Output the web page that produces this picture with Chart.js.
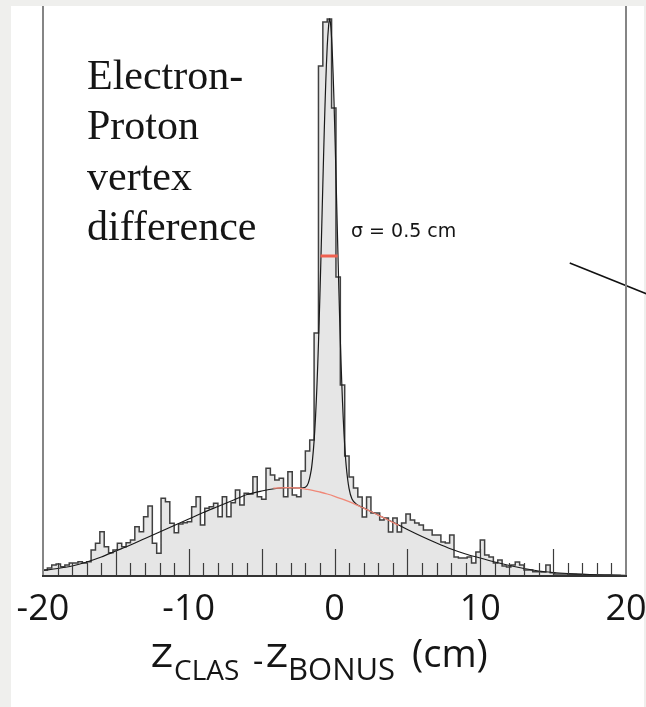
<!DOCTYPE html>
<html>
<head>
<meta charset="utf-8">
<title>Electron-Proton vertex difference</title>
<script src="https://cdn.jsdelivr.net/npm/chart.js@4.4.0/dist/chart.umd.min.js"></script>
<style>
    html, body { margin: 0; padding: 0; background: #efefed; }
    .panel { position: absolute; left: 11px; top: 6px; width: 633px; height: 701px; background: #fff; }
    #vertexChart { position: absolute; left: 0; top: 0; }
</style>
</head>
<body>
<div class="panel"></div>
<canvas id="vertexChart" width="646" height="707"></canvas>
<script>
// histogram: 0.3 cm bins starting at -20 cm (arbitrary count units)
const binStart = -20;
const binWidth = 0.3;
const counts = [
    5.3, 6, 8, 11, 12, 9.3, 11, 13, 13, 14.3, 13, 14.3,
    26, 32.7, 44.3, 29.3, 23.3, 26, 32.7, 29.3, 33.3, 36, 49.3, 44.3,
    59.3, 70, 32.7, 22.7, 77.7, 74.3, 52.7, 43.3, 52, 53.3, 54.3, 69.3,
    79.3, 51, 67.7, 69.3, 72.7, 59.3, 79.3, 59.3, 73.3, 86, 71, 82.7,
    82, 99.3, 79.3, 76.7, 107.7, 101, 96, 97.7, 79.3, 104.3, 81, 79.3,
    105, 125, 136, 243, 510, 554, 557, 468, 299, 191,
    120, 99, 88, 79, 59, 79, 63, 63, 56, 58, 44, 58,
    44, 53, 62, 56, 53, 51, 46, 46, 41, 41, 34, 33,
    41, 19, 18, 18, 19, 13, 24, 36, 21, 19, 13, 16,
    10, 9, 11, 14, 11, 6, 6, 4.3, 4.3, 4, 11, 3.3,
    2, 2, 2, 1.5, 1.5, 1.3, 1.3, 1, 1, 1, 1, 1, 1, 0.7, 0.7, 0.5,
];

// total fit (black)
const fitX = [-20, -19, -18, -17, -16, -15, -14, -13, -12, -11, -10, -9, -8, -7, -6, -5, -4, -3.3, -2.5, -2,
    -1.8, -1.6, -1.5, -1.4, -1.3, -1.2, -1.1, -1.0, -0.9, -0.8, -0.7, -0.6, -0.5, -0.4, -0.34, -0.25, -0.15, -0.05,
    0.05, 0.15, 0.25, 0.35, 0.45, 0.55, 0.65, 0.8, 1.0, 1.2, 1.5, 2, 3, 4, 5, 6, 7, 8, 9, 10, 11, 12, 13, 14, 15,
    16, 17, 18, 19, 20];
const fitY = [5.5, 7.5, 10, 14, 19, 25, 31, 37.5, 44, 50.5, 57, 63.5, 69.5, 75.5, 81.5, 85, 87.5, 88.3, 88, 88.8,
    92.9, 105.6, 117.7, 135.1, 159.6, 192, 232.7, 281.1, 335.1, 391.7, 446.4, 493.6, 529.5, 551, 557, 549, 523, 482,
    430, 372, 314, 260, 213, 174, 143, 110.5, 87.3, 77.1, 71.8, 68, 61, 54, 46.5, 39.5, 33, 27, 22, 18, 14, 10.5,
    7.5, 5, 3.5, 2.5, 1.8, 1.2, 0.8, 0.5];

// background part of the fit (red)
const bgX = [-4.2, -3.3, -2.5, -2, -1.5, -1, -0.5, 0, 0.5, 1, 1.5, 2, 2.5, 3, 3.5, 4, 4.4];
const bgY = [87.8, 88.3, 88, 86.9, 85.7, 84, 82, 79.7, 77.1, 74.3, 71.2, 67.8, 64.5, 60.9, 57.3, 53.6, 50.6];

// FWHM marker of the peak
const fwhmX = [-0.96, 0.22];
const fwhmY = [320, 320];

// pointer line leaving the frame on the right
const pointerX = [16.14, 21.6];
const pointerY = [313, 281];

const tickValues = [-20, -10, 0, 10, 20];
const tickLabels = ['-20', '-10', '0', '10', '20'];
const annotationLines = ['Electron-', 'Proton', 'vertex', 'difference'];
const sigmaLabel = 'σ = 0.5 cm';
const titleTexts = ['Z', 'CLAS', '-', 'Z', 'BONUS', '(cm)'];

const toPoints = (xs, ys) => xs.map((x, i) => ({ x, y: ys[i] }));

const histPoints = counts.map((c, i) => ({ x: binStart + i * binWidth, y: c }));
histPoints.push({ x: binStart + counts.length * binWidth, y: counts[counts.length - 1] });

const framePlugin = {
    id: 'frame',
    afterDatasetsDraw(chart) {
        const { ctx, chartArea, scales } = chart;
        const { left, right, top, bottom } = chartArea;
        ctx.save();

        // inward ticks, minor every 1 cm, major every 5 cm
        ctx.strokeStyle = '#3c3c3c';
        ctx.lineWidth = 1.2;
        for (let v = -19; v <= 19; v++) {
            const px = Math.round(scales.x.getPixelForValue(v)) + 0.5;
            const len = v % 5 === 0 ? 27 : 13;
            ctx.beginPath();
            ctx.moveTo(px, bottom);
            ctx.lineTo(px, bottom - len);
            ctx.stroke();
        }

        ctx.strokeStyle = '#858585';
        ctx.lineWidth = 2;
        ctx.beginPath();
        ctx.moveTo(left, top);
        ctx.lineTo(left, bottom);
        ctx.moveTo(right, top);
        ctx.lineTo(right, bottom);
        ctx.stroke();

        ctx.strokeStyle = '#333';
        ctx.lineWidth = 2;
        ctx.beginPath();
        ctx.moveTo(left - 1, bottom);
        ctx.lineTo(right + 1, bottom);
        ctx.stroke();
        ctx.restore();
    },
    afterDraw(chart) {
        const { ctx, chartArea, scales } = chart;
        const { bottom } = chartArea;
        ctx.save();
        ctx.fillStyle = '#151515';

        ctx.font = '36px "Open Sans"';
        ctx.textAlign = 'center';
        ctx.textBaseline = 'alphabetic';
        tickValues.forEach((v, i) => {
            ctx.fillText(tickLabels[i], scales.x.getPixelForValue(v), bottom + 44);
        });

        // axis title: Z_CLAS - Z_BONUS (cm), subscripts drawn lower and smaller
        const layout = [
            { font: '32px "DejaVu Sans"', x: 151, dy: 91 },
            { font: '28px "Open Sans"', x: 174, dy: 104 },
            { font: '32px "Open Sans"', x: 253, dy: 96 },
            { font: '32px "DejaVu Sans"', x: 266, dy: 91 },
            { font: '31px "Open Sans"', x: 288, dy: 104 },
            { font: '38px "Open Sans"', x: 412, dy: 91 },
        ];
        ctx.textAlign = 'left';
        titleTexts.forEach((text, i) => {
            ctx.font = layout[i].font;
            ctx.fillText(text, layout[i].x, bottom + layout[i].dy);
        });

        ctx.font = '42px "Liberation Serif"';
        annotationLines.forEach((line, i) => {
            ctx.fillText(line, 87, 88.5 + i * 50.5);
        });

        ctx.font = '19px "DejaVu Sans"';
        ctx.fillText(sigmaLabel, 351, 237);
        ctx.restore();
    },
};

new Chart(document.getElementById('vertexChart'), {
    type: 'line',
    data: {
        datasets: [
            {
                label: 'Events',
                data: histPoints,
                stepped: 'after',
                borderColor: '#404040',
                borderWidth: 1.5,
                backgroundColor: '#e6e6e6',
                fill: 'origin',
                pointRadius: 0,
                order: 5,
            },
            {
                label: 'Fit',
                data: toPoints(fitX, fitY),
                borderColor: '#1a1a1a',
                borderWidth: 1.2,
                tension: 0.3,
                fill: false,
                pointRadius: 0,
                order: 4,
            },
            {
                label: 'Background',
                data: toPoints(bgX, bgY),
                borderColor: '#f08878',
                borderWidth: 1.3,
                tension: 0.4,
                fill: false,
                pointRadius: 0,
                order: 3,
            },
            {
                label: 'FWHM',
                data: toPoints(fwhmX, fwhmY),
                borderColor: '#f0604f',
                borderWidth: 3,
                fill: false,
                pointRadius: 0,
                order: 2,
            },
            {
                label: 'Pointer',
                data: toPoints(pointerX, pointerY),
                borderColor: '#111',
                borderWidth: 1.6,
                fill: false,
                pointRadius: 0,
                clip: false,
                order: 1,
            },
        ],
    },
    options: {
        responsive: false,
        animation: false,
        devicePixelRatio: 1,
        layout: { padding: { left: 43, right: 20, top: 6, bottom: 131 } },
        plugins: {
            legend: { display: false },
            tooltip: { enabled: false },
        },
        scales: {
            x: { type: 'linear', min: -20, max: 20, display: false },
            y: { type: 'linear', min: 0, max: 570, display: false },
        },
    },
    plugins: [framePlugin],
});
</script>
</body>
</html>
